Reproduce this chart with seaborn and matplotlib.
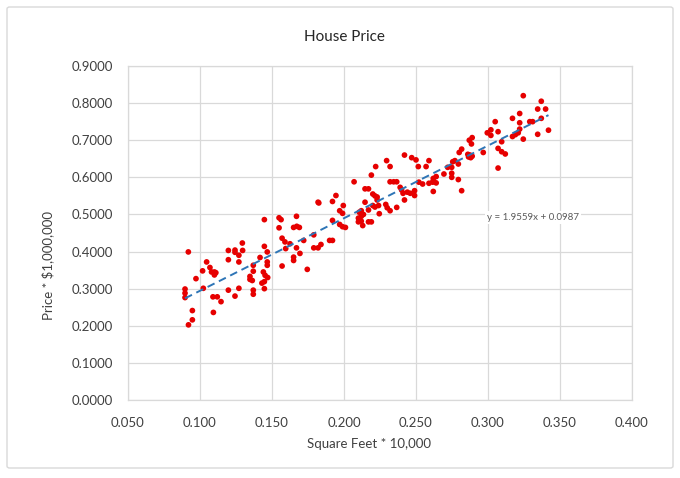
import numpy as np
import pandas as pd
import seaborn as sns
import matplotlib.pyplot as plt
from matplotlib.patches import FancyBboxPatch

# square feet (* 10,000)
sqft = [
    0.0919, 0.0896, 0.0896, 0.0896, 0.0920, 0.0947, 0.0947, 0.0972, 0.1023, 0.1018,
    0.1046, 0.1069, 0.1080, 0.1100, 0.1110, 0.1100, 0.1090, 0.1120, 0.1146, 0.1093,
    0.1197, 0.1197, 0.1243, 0.1243, 0.1294, 0.1270, 0.1270, 0.1296, 0.1197, 0.1243,
    0.1270, 0.1370, 0.1370, 0.1347, 0.1347, 0.1363, 0.1370, 0.1370, 0.1417, 0.1447,
    0.1447, 0.1467, 0.1467, 0.1467, 0.1440, 0.1452, 0.1470, 0.1430, 0.1447, 0.1447,
    0.1549, 0.1563, 0.1549, 0.1570, 0.1590, 0.1595, 0.1570, 0.1625, 0.1650, 0.1672,
    0.1690, 0.1670, 0.1650, 0.1650, 0.1670, 0.1694, 0.1720, 0.1745, 0.1790, 0.1790,
    0.1820, 0.1840, 0.1820, 0.1825, 0.1900, 0.1920, 0.1920, 0.1944, 0.1920, 0.1970,
    0.1990, 0.1995, 0.1970, 0.1990, 0.2010, 0.2070, 0.2106, 0.2120, 0.2100, 0.2120,
    0.2135, 0.2100, 0.2120, 0.2130, 0.2146, 0.2170, 0.2146, 0.2170, 0.2170, 0.2190,
    0.2190, 0.2220, 0.2200, 0.2215, 0.2230, 0.2200, 0.2215, 0.2240, 0.2230, 0.2245,
    0.2296, 0.2320, 0.2290, 0.2300, 0.2320, 0.2320, 0.2345, 0.2366, 0.2366, 0.2390,
    0.2400, 0.2410, 0.2420, 0.2440, 0.2460, 0.2420, 0.2470, 0.2500, 0.2490, 0.2490,
    0.2516, 0.2520, 0.2546, 0.2570, 0.2590, 0.2590, 0.2616, 0.2620, 0.2620, 0.2640,
    0.2620, 0.2640, 0.2694, 0.2720, 0.2748, 0.2748, 0.2748, 0.2755, 0.2770, 0.2794,
    0.2794, 0.2817, 0.2800, 0.2817, 0.2860, 0.2875, 0.2890, 0.2865, 0.2880, 0.2870,
    0.2890, 0.2885, 0.2967, 0.2995, 0.3020, 0.3020, 0.3050, 0.3070, 0.3070, 0.3095,
    0.3095, 0.3120, 0.3070, 0.3170, 0.3170, 0.3190, 0.3210, 0.3220, 0.3220, 0.3220,
    0.3245, 0.3245, 0.3290, 0.3310, 0.3345, 0.3370, 0.3400, 0.3370, 0.3345, 0.3420,
]

# price (* $1,000,000)
price = [
    0.399, 0.299, 0.288, 0.276, 0.2025, 0.216, 0.241, 0.327, 0.301, 0.348,
    0.372, 0.357, 0.345, 0.345, 0.343, 0.337, 0.278, 0.278, 0.265, 0.236,
    0.403, 0.378, 0.404, 0.398, 0.423, 0.390, 0.372, 0.403, 0.296, 0.280,
    0.301, 0.363, 0.347, 0.333, 0.325, 0.322, 0.296, 0.285, 0.384, 0.486,
    0.414, 0.399, 0.372, 0.363, 0.345, 0.336, 0.330, 0.315, 0.319, 0.300,
    0.491, 0.486, 0.464, 0.436, 0.426, 0.408, 0.361, 0.421, 0.465, 0.468,
    0.465, 0.495, 0.385, 0.376, 0.410, 0.395, 0.430, 0.352, 0.445, 0.410,
    0.410, 0.419, 0.533, 0.531, 0.430, 0.430, 0.535, 0.551, 0.484, 0.510,
    0.503, 0.524, 0.473, 0.467, 0.465, 0.588, 0.506, 0.510, 0.490, 0.495,
    0.500, 0.480, 0.482, 0.470, 0.569, 0.569, 0.533, 0.512, 0.480, 0.480,
    0.606, 0.629, 0.555, 0.550, 0.547, 0.524, 0.520, 0.524, 0.539, 0.502,
    0.645, 0.629, 0.527, 0.518, 0.510, 0.588, 0.588, 0.588, 0.519, 0.573,
    0.566, 0.557, 0.660, 0.560, 0.557, 0.539, 0.653, 0.647, 0.564, 0.551,
    0.629, 0.587, 0.582, 0.629, 0.645, 0.584, 0.587, 0.562, 0.597, 0.602,
    0.590, 0.585, 0.609, 0.627, 0.627, 0.611, 0.600, 0.642, 0.645, 0.636,
    0.594, 0.564, 0.667, 0.676, 0.662, 0.660, 0.657, 0.655, 0.653, 0.700,
    0.707, 0.690, 0.667, 0.720, 0.728, 0.713, 0.750, 0.723, 0.678, 0.696,
    0.669, 0.663, 0.625, 0.759, 0.710, 0.715, 0.720, 0.730, 0.747, 0.772,
    0.703, 0.820, 0.750, 0.750, 0.784, 0.805, 0.784, 0.759, 0.716, 0.727,
]

# trendline shown on the chart
slope = 1.9559
intercept = 0.0987
x_ticks = [0.05, 0.10, 0.15, 0.20, 0.25, 0.30, 0.35, 0.40]
y_ticks = [0.0, 0.1, 0.2, 0.3, 0.4, 0.5, 0.6, 0.7, 0.8, 0.9]

df = pd.DataFrame({"sqft": sqft, "price": price})

sns.set_style("white")
plt.rcParams["font.family"] = ["Lato", "DejaVu Sans"]

text_col = "#404040"
grid_col = "#d9d9d9"

fig = plt.figure(figsize=(6.8, 4.78), dpi=100)
ax = fig.add_axes([128 / 680, 1 - 400 / 478, 504 / 680, 334 / 478])

# outer chart border
fig.patches.append(FancyBboxPatch(
    (7 / 680, 10 / 478), 666 / 680, 461 / 478,
    boxstyle="round,pad=0,rounding_size=0.004",
    transform=fig.transFigure, facecolor="none",
    edgecolor=grid_col, linewidth=1.0, zorder=0))

sns.scatterplot(data=df, x="sqft", y="price", ax=ax, color="#e60000",
                s=17, edgecolor="none", zorder=3)

# dashed linear trendline over the data range
x_line = np.array([min(sqft), max(sqft)])
ax.plot(x_line, slope * x_line + intercept, linestyle=(0, (4, 2.5)),
        color="#2e75b6", linewidth=1.4, zorder=4)

ax.text(0.2995, 0.492, f"y = {slope}x + {intercept}", fontsize=7,
        color="#595959", va="center", ha="left", zorder=5,
        bbox=dict(facecolor="white", edgecolor="none", pad=1.5))

ax.set_xlim(0.05, 0.40)
ax.set_ylim(0.0, 0.9)
ax.set_xticks(x_ticks)
ax.set_yticks(y_ticks)
ax.set_xticklabels([f"{v:.3f}" for v in x_ticks])
ax.set_yticklabels([f"{v:.4f}" for v in y_ticks])
ax.tick_params(axis="both", length=0, labelsize=9.5, colors=text_col)
ax.tick_params(axis="x", pad=12)
ax.tick_params(axis="y", pad=11)
ax.grid(True, color=grid_col, linewidth=0.9)
ax.set_axisbelow(True)
for sp in ax.spines.values():
    sp.set_color(grid_col)
    sp.set_linewidth(0.9)

fig.text(344.5 / 680, 1 - 37 / 478, "House Price", fontsize=11,
         color="#262626", ha="center", va="center")
ax.set_xlabel("Square Feet * 10,000", fontsize=9.5, color=text_col)
ax.set_ylabel(r"Price * \$1,000,000", fontsize=9.5, color=text_col)
ax.xaxis.set_label_coords(0.478, -0.132)
ax.yaxis.set_label_coords(-0.159, 0.404)
ax.xaxis.label.set_va("center")
ax.yaxis.label.set_va("center")

fig.savefig("out.png", dpi=100)
